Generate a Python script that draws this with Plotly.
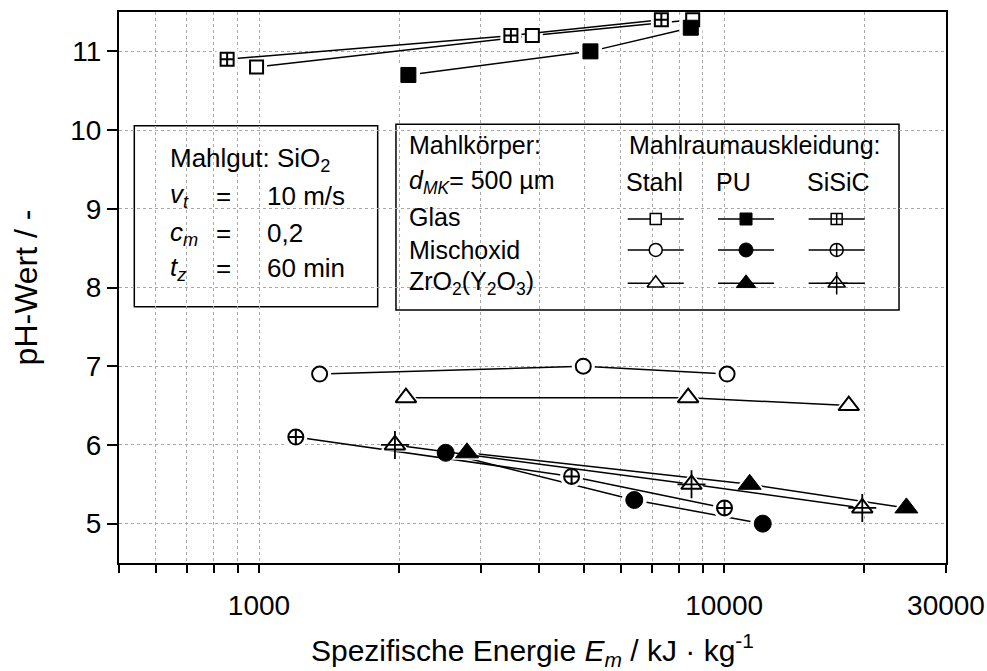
import plotly.graph_objects as go

# ---------------- data ----------------
glas_stahl_x = [988, 3870, 8560]
glas_stahl_y = [10.8, 11.2, 11.4]
glas_pu_x = [2095, 5160, 8480]
glas_pu_y = [10.7, 11.0, 11.3]
glas_sisic_x = [854, 3480, 7330]
glas_sisic_y = [10.9, 11.2, 11.4]

misch_stahl_x = [1350, 4980, 10150]
misch_stahl_y = [6.9, 7.0, 6.9]
misch_pu_x = [2520, 6410, 12110]
misch_pu_y = [5.9, 5.3, 5.0]
misch_sisic_x = [1200, 4700, 10020]
misch_sisic_y = [6.1, 5.6, 5.2]

zr_stahl_x = [2070, 8370, 18540]
zr_stahl_y = [6.6, 6.6, 6.5]
zr_pu_x = [2800, 11350, 24660]
zr_pu_y = [5.9, 5.5, 5.2]
zr_sisic_x = [1960, 8510, 19820]
zr_sisic_y = [6.0, 5.5, 5.2]

x_tickvals = [500, 600, 700, 800, 900, 1000, 2000, 3000, 4000, 5000, 6000,
              7000, 8000, 9000, 10000, 20000, 30000]
x_ticktext = ["", "", "", "", "", "1000", "", "", "", "", "", "", "", "", "10000", "", "30000"]
y_tickvals = [5, 6, 7, 8, 9, 10, 11]

FONT = "Liberation Sans, Arial, sans-serif"

# style per (material, lining)
series = [
    (glas_stahl_x, glas_stahl_y, "square", "white", 13),
    (glas_pu_x, glas_pu_y, "square", "black", 15),
    (glas_sisic_x, glas_sisic_y, "square-cross", "white", 13),
    (misch_stahl_x, misch_stahl_y, "circle", "white", 15),
    (misch_pu_x, misch_pu_y, "circle", "black", 17),
    (misch_sisic_x, misch_sisic_y, "circle-cross", "white", 15),
    (zr_stahl_x, zr_stahl_y, "triangle-up", "white", 18),
    (zr_pu_x, zr_pu_y, "triangle-up", "black", 20),
    (zr_sisic_x, zr_sisic_y, "triangle-up", "white", 18),
]

fig = go.Figure()

# lines with white halos (create small gaps at the markers)
for xs, ys, sym, fill, size in series:
    fig.add_trace(go.Scatter(
        x=xs, y=ys, mode="lines+markers",
        line=dict(color="black", width=1.5),
        marker=dict(symbol=sym, color="white", size=size + 8, line=dict(width=0)),
        cliponaxis=False, showlegend=False, hoverinfo="skip"))

# markers
for i, (xs, ys, sym, fill, size) in enumerate(series):
    fig.add_trace(go.Scatter(
        x=xs, y=ys, mode="markers",
        marker=dict(symbol=sym, color=fill, size=size,
                    line=dict(color="black", width=2 if fill == "white" else 1)),
        cliponaxis=False, showlegend=False))
    if i == 8:  # ZrO2 / SiSiC: triangle with a plus
        fig.add_trace(go.Scatter(
            x=xs, y=ys, mode="markers",
            marker=dict(symbol="cross-thin-open", size=20, color="black",
                        line=dict(color="black", width=1.8)),
            cliponaxis=False, showlegend=False))

# ---------------- legend samples (overlay axes in paper units) ----------------
leg_cols = [0.6490, 0.7582, 0.8678]
leg_rows = [0.6243, 0.5681, 0.5076]
half = 0.0339
leg_syms = [["square", "square", "square-cross"],
            ["circle", "circle", "circle-cross"],
            ["triangle-up", "triangle-up", "triangle-up"]]
leg_fill = ["white", "black", "white"]
leg_size = [[11, 12, 11], [13, 14, 13], [15, 17, 15]]
for r, ry in enumerate(leg_rows):
    for c, cx in enumerate(leg_cols):
        fig.add_trace(go.Scatter(
            x=[cx - half, cx + half], y=[ry, ry], mode="lines",
            line=dict(color="black", width=1.5), xaxis="x2", yaxis="y2",
            showlegend=False, hoverinfo="skip"))
        fig.add_trace(go.Scatter(
            x=[cx], y=[ry], mode="markers", xaxis="x2", yaxis="y2",
            marker=dict(symbol=leg_syms[r][c], color=leg_fill[c], size=leg_size[r][c],
                        line=dict(color="black", width=1.5 if leg_fill[c] == "white" else 1)),
            showlegend=False, hoverinfo="skip"))
        if r == 2 and c == 2:
            fig.add_trace(go.Scatter(
                x=[cx], y=[ry], mode="markers", xaxis="x2", yaxis="y2",
                marker=dict(symbol="cross-thin-open", size=16, color="black",
                            line=dict(color="black", width=1.5)),
                showlegend=False, hoverinfo="skip"))

# ---------------- boxes ----------------
shapes = [
    dict(type="rect", xref="paper", yref="paper", x0=0.0185, x1=0.3128, y0=0.4652, y1=0.7937,
         line=dict(color="black", width=1.5), fillcolor="white", layer="below"),
    dict(type="rect", xref="paper", yref="paper", x0=0.3349, x1=0.9432, y0=0.4592, y1=0.7962,
         line=dict(color="black", width=1.5), fillcolor="white", layer="below"),
]

ann = []
def txt(x, y, t, size, xanchor="left"):
    ann.append(dict(x=x, y=y, xref="paper", yref="paper", text=t, showarrow=False,
                    xanchor=xanchor, yanchor="middle", font=dict(size=size, color="black", family=FONT)))

s1 = 26
txt(0.0596, 0.7327, "Mahlgut: SiO<sub>2</sub>", s1)
rows1 = [(0.6661, "<i>v</i><sub><i>t</i></sub>", "10 m/s"),
         (0.5984, "<i>c</i><sub><i>m</i></sub>", "0,2"),
         (0.5348, "<i>t</i><sub><i>z</i></sub>", "60 min")]
for y, a, b in rows1:
    txt(0.0596, y, a, s1)
    txt(0.1261, y, "=", s1, "center")
    txt(0.1765, y, b, s1)

s2 = 25
txt(0.3486, 0.7586, "Mahlkörper:", s2)
txt(0.3486, 0.6920, "<i>d</i><sub><i>MK</i></sub>= 500 µm", s2)
txt(0.3486, 0.6285, "Glas", s2)
txt(0.3486, 0.5681, "Mischoxid", s2)
txt(0.3486, 0.5076, "ZrO<sub>2</sub>(Y<sub>2</sub>O<sub>3</sub>)", s2)
txt(0.6146, 0.7586, "Mahlraumauskleidung:", s2)
txt(0.6481, 0.6920, "Stahl", s2, "center")
txt(0.7428, 0.6920, "PU", s2, "center")
txt(0.8706, 0.6920, "SiSiC", s2, "center")

fig.update_layout(
    width=987, height=671,
    margin=dict(l=119, r=41, t=12, b=108, autoexpand=False),
    paper_bgcolor="white", plot_bgcolor="white",
    font=dict(family=FONT, color="black", size=28),
    shapes=shapes, annotations=ann,
    xaxis=dict(type="log", range=[2.69897, 4.4771213], automargin=False,
               tickmode="array", tickvals=x_tickvals, ticktext=x_ticktext,
               ticks="outside", ticklen=8, tickwidth=1.5, tickcolor="black",
               ticklabelstandoff=8,
               showline=True, linecolor="black", linewidth=2, mirror=True,
               showgrid=True, gridcolor="#a8a8a8", gridwidth=1, griddash="dot",
               zeroline=False, tickfont=dict(size=28),
               title=dict(text="Spezifische Energie <i>E</i><sub><i>m</i></sub> / kJ · kg<sup>-1</sup>",
                          font=dict(size=30), standoff=26)),
    yaxis=dict(range=[4.5, 11.5], tickmode="array", tickvals=y_tickvals, automargin=False,
               ticks="outside", ticklen=10, tickwidth=1.5, tickcolor="black",
               showline=True, linecolor="black", linewidth=2, mirror=True,
               showgrid=True, gridcolor="#a8a8a8", gridwidth=1, griddash="dot",
               zeroline=False, tickfont=dict(size=28),
               title=dict(text="pH-Wert / -", font=dict(size=32), standoff=23)),
    xaxis2=dict(overlaying="x", range=[0, 1], visible=False, fixedrange=True),
    yaxis2=dict(overlaying="y", range=[0, 1], visible=False, fixedrange=True),
)

fig.write_html("out.html")
